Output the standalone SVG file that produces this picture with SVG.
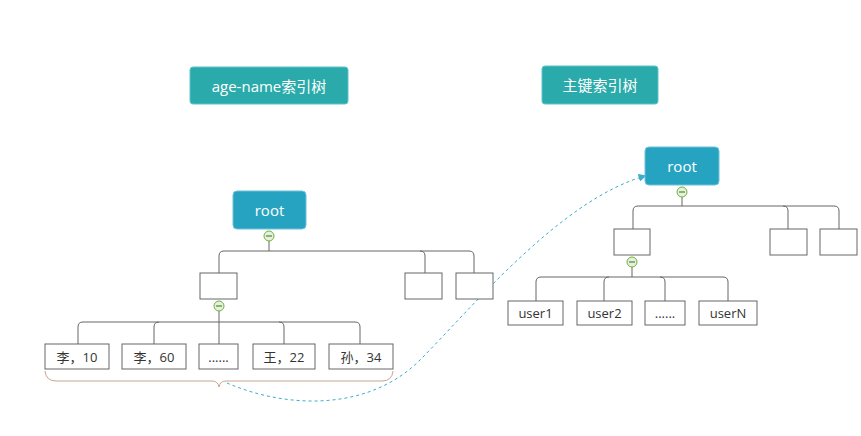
<svg xmlns="http://www.w3.org/2000/svg" width="861" height="436" viewBox="0 0 861 436">
<defs>
<style>
text{font-family:"Open Sans","Noto Sans CJK SC",sans-serif;text-anchor:middle;dominant-baseline:central}
.title rect{fill:#2aaaaa;stroke:#5cc3c8;stroke-width:1}
.title text{fill:#fff;font-size:15px}
.root rect{fill:#27a3c2;stroke:#6cc2d8;stroke-width:1}
.root text{fill:#fff;font-size:15px}
.box rect{fill:#fff;stroke:#666;stroke-width:1}
.box text{fill:#333;font-size:13px}
.conn path{fill:none;stroke:#666;stroke-width:1}
.tog circle{fill:#e8efe0;stroke:#6bb33a;stroke-width:1}
.tog path{stroke:#4a8a22;stroke-width:1.2}
</style>
<marker id="arr" viewBox="0 0 10 10" refX="8" refY="5" markerWidth="8" markerHeight="8" orient="auto" markerUnits="userSpaceOnUse">
<path d="M0,0 L10,5 L0,10 z" fill="#3aaecb"/>
</marker>
</defs>
<rect width="861" height="436" fill="#fff"/>

<g id="title-left" class="title"><rect x="190" y="67" width="158" height="37" rx="3"/><text x="269" y="86">age-name索引树</text></g>
<g id="title-right" class="title"><rect x="542" y="66" width="116" height="38" rx="3"/><text x="600" y="85">主键索引树</text></g>

<g id="connectors" class="conn">
<!-- left tree -->
<path d="M269,241 V251"/>
<path d="M224,251 H469 M224,251 Q219,251 219,256 V273 M420,251 Q425,251 425,256 V273 M469,251 Q474,251 474,256 V273"/>
<path d="M219,311 V322"/>
<path d="M83,322 H355 M83,322 Q78,322 78,327 V344 M159,322 Q154,322 154,327 V344 M219,322 V344 M279,322 Q284,322 284,327 V344 M355,322 Q360,322 360,327 V344"/>
<!-- right tree -->
<path d="M682,197 V206"/>
<path d="M638,206 H834 M638,206 Q633,206 633,211 V229 M783,206 Q788,206 788,211 V229 M834,206 Q839,206 839,211 V229"/>
<path d="M632,267 V277"/>
<path d="M541,277 H723 M541,277 Q536,277 536,282 V301 M609,277 Q604,277 604,282 V301 M660,277 Q665,277 665,282 V301 M723,277 Q728,277 728,282 V301"/>
<!-- brace -->
<path d="M45,371 Q46,381 56,381 H212 Q218,381 219,387 Q220,381 226,381 H382 Q392,381 393,371" style="stroke:#c9a58c"/>
<!-- dotted link -->
<path d="M227,383 C290,410 370,410 420,360 C470,310 560,200 645,176" style="stroke:#3aaecb;stroke-dasharray:3 3" marker-end="url(#arr)"/>
</g>

<g id="root-left" class="root"><rect x="233" y="191" width="73" height="38" rx="4"/><text x="269.5" y="210">root</text></g>
<g id="tog-l1" class="tog"><circle cx="269" cy="236" r="5"/><path d="M266,236 H272"/></g>
<g id="l-n1" class="box"><rect x="200" y="273" width="37" height="26"/></g>
<g id="tog-l2" class="tog"><circle cx="219" cy="306" r="5"/><path d="M216,306 H222"/></g>
<g id="l-n2" class="box"><rect x="405" y="273" width="37" height="26"/></g>
<g id="l-n3" class="box"><rect x="456" y="273" width="37" height="26"/></g>
<g id="l-leaf1" class="box"><rect x="45" y="344" width="64" height="25"/><text x="77" y="356.5">李，10</text></g>
<g id="l-leaf2" class="box"><rect x="122" y="344" width="64" height="25"/><text x="154" y="356.5">李，60</text></g>
<g id="l-leaf3" class="box"><rect x="199" y="344" width="39" height="25"/><text x="218.5" y="356.5">......</text></g>
<g id="l-leaf4" class="box"><rect x="253" y="344" width="62" height="25"/><text x="284" y="356.5">王，22</text></g>
<g id="l-leaf5" class="box"><rect x="329" y="344" width="64" height="25"/><text x="361" y="356.5">孙，34</text></g>

<g id="root-right" class="root"><rect x="645" y="147" width="74" height="38" rx="4"/><text x="682" y="166">root</text></g>
<g id="tog-r1" class="tog"><circle cx="682" cy="192" r="5"/><path d="M679,192 H685"/></g>
<g id="r-n1" class="box"><rect x="614" y="229" width="36" height="26"/></g>
<g id="tog-r2" class="tog"><circle cx="632" cy="262" r="5"/><path d="M629,262 H635"/></g>
<g id="r-n2" class="box"><rect x="770" y="229" width="37" height="26"/></g>
<g id="r-n3" class="box"><rect x="820" y="229" width="37" height="26"/></g>
<g id="r-leaf1" class="box"><rect x="508" y="301" width="55" height="24"/><text x="535.5" y="313">user1</text></g>
<g id="r-leaf2" class="box"><rect x="577" y="301" width="55" height="24"/><text x="604.5" y="313">user2</text></g>
<g id="r-leaf3" class="box"><rect x="645" y="301" width="40" height="24"/><text x="665" y="313">......</text></g>
<g id="r-leaf4" class="box"><rect x="699" y="301" width="58" height="24"/><text x="728" y="313">userN</text></g>
</svg>
